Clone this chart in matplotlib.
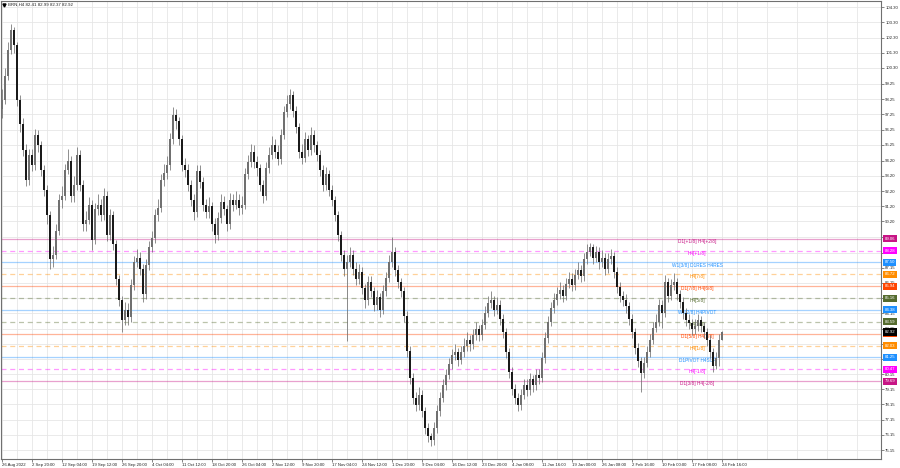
import matplotlib
matplotlib.use('Agg')
import matplotlib.pyplot as plt
import matplotlib.transforms as mtransforms
import numpy as np

plt.rcParams['font.family'] = ['Liberation Sans', 'DejaVu Sans']

# header
symbol = 'BRN,H4'
last_ohlc = [82.41, 82.99, 82.37, 82.92]

# bars (opens are the previous close)
first_open = 97.6
closes = [98.2, 99.8, 101.5, 102.8, 101.8, 98.2, 96.6, 94.9, 92.9, 94.6,
          93.9, 95.9, 95.2, 93.6, 92.3, 90.6, 87.7, 88.0, 89.6, 91.6,
          91.9, 93.6, 94.2, 91.9, 92.6, 94.6, 92.6, 90.0, 90.3, 91.3,
          89.0, 91.0, 91.3, 90.6, 91.9, 89.3, 90.6, 88.7, 86.4, 85.0,
          83.7, 84.4, 83.9, 86.0, 87.5, 87.8, 87.1, 85.4, 87.3, 88.5,
          89.1, 90.6, 91.1, 92.9, 93.4, 93.9, 95.6, 97.2, 96.8, 95.6,
          93.9, 93.6, 92.6, 91.6, 90.8, 93.5, 92.8, 91.3, 90.8, 91.2,
          90.0, 89.3, 90.4, 91.5, 91.0, 90.0, 91.6, 91.3, 91.6, 91.1,
          91.3, 93.3, 94.1, 94.8, 94.1, 93.7, 92.6, 91.9, 93.7, 94.6,
          95.2, 94.8, 94.3, 95.9, 97.4, 97.9, 98.5, 97.5, 96.4, 94.8,
          94.4, 95.6, 94.9, 95.9, 95.2, 94.6, 93.6, 92.6, 93.3, 92.3,
          91.6, 90.6, 89.3, 88.0, 87.1, 87.5, 88.0, 87.1, 86.4, 86.9,
          85.8, 85.0, 86.2, 85.6, 84.7, 85.2, 84.4, 85.6, 86.5, 87.5,
          88.2, 87.0, 86.2, 85.6, 84.0, 81.7, 79.9, 78.6, 78.1, 78.8,
          77.7, 76.6, 76.1, 75.8, 76.6, 77.7, 78.6, 79.4, 80.1, 80.8,
          81.4, 81.6, 81.1, 81.6, 82.0, 82.4, 82.1, 82.7, 83.1, 82.7,
          83.4, 84.2, 84.8, 85.0, 84.4, 84.7, 83.8, 82.9, 81.6, 80.3,
          79.2, 78.6, 78.1, 78.8, 79.4, 79.1, 79.8, 79.4, 80.1, 79.9,
          81.2, 82.5, 83.6, 84.5, 85.0, 85.4, 85.7, 85.3, 86.1, 86.4,
          86.0, 86.7, 87.0, 86.6, 87.7, 88.2, 88.5, 87.8, 88.2, 87.5,
          87.8, 87.1, 87.7, 87.9, 86.9, 85.9, 85.3, 85.0, 84.6, 83.8,
          82.9, 81.9, 81.0, 80.2, 80.9, 81.6, 82.4, 83.2, 83.6, 84.7,
          84.2, 86.2, 85.3, 86.0, 86.2, 85.4, 84.9, 84.2, 83.7, 83.5,
          83.1, 83.3, 83.7, 83.3, 82.9, 82.4, 81.6, 80.7, 81.2, 82.41,
          82.92]
highs = [98.9, 100.3, 102.0, 103.2, 103.0, 102.0, 98.5, 97.0, 95.3, 95.0,
         95.0, 96.3, 96.2, 95.5, 93.9, 92.6, 90.9, 88.6, 90.0, 92.0,
         92.5, 94.0, 95.0, 94.5, 93.2, 95.1, 94.9, 92.9, 90.9, 91.8,
         91.6, 91.4, 92.0, 91.7, 92.4, 92.2, 91.0, 90.9, 89.0, 86.7,
         85.3, 84.9, 84.8, 86.4, 87.9, 88.4, 88.2, 87.4, 87.7, 88.9,
         89.6, 91.0, 91.7, 93.3, 94.0, 94.5, 96.0, 97.7, 97.6, 97.1,
         95.9, 94.4, 94.0, 92.9, 92.0, 93.9, 93.9, 93.1, 91.7, 91.8,
         91.5, 90.4, 90.8, 92.0, 91.9, 91.3, 92.1, 92.0, 92.2, 92.0,
         91.9, 93.7, 94.6, 95.3, 95.2, 94.5, 94.0, 92.9, 94.1, 95.1,
         95.8, 95.6, 95.2, 96.3, 97.8, 98.5, 98.9, 98.8, 97.8, 96.7,
         95.3, 96.1, 95.9, 96.4, 96.2, 95.5, 94.9, 93.9, 93.8, 93.6,
         92.6, 91.9, 90.9, 89.6, 88.3, 88.0, 88.5, 88.3, 87.5, 87.4,
         87.2, 86.1, 86.6, 86.6, 85.9, 85.7, 85.5, 86.0, 86.9, 88.0,
         89.2, 88.5, 87.3, 86.5, 85.9, 84.3, 82.0, 80.2, 79.0, 79.3,
         79.1, 78.0, 76.9, 76.3, 77.0, 78.1, 79.0, 79.8, 80.5, 81.2,
         81.8, 82.1, 81.9, 82.0, 82.5, 82.9, 82.7, 83.1, 83.6, 83.4,
         83.8, 84.6, 85.3, 85.6, 85.3, 85.2, 85.0, 84.1, 83.2, 81.9,
         80.6, 79.5, 78.9, 79.2, 79.8, 79.8, 80.2, 80.1, 80.5, 80.5,
         81.6, 82.9, 84.0, 84.9, 85.5, 85.9, 86.2, 86.0, 86.5, 86.9,
         86.8, 87.1, 87.5, 87.3, 88.1, 88.7, 88.8, 88.7, 88.6, 88.5,
         88.3, 88.1, 88.1, 88.4, 88.2, 87.2, 86.2, 85.6, 85.4, 84.9,
         84.1, 83.2, 82.2, 81.3, 81.3, 82.0, 82.8, 83.6, 84.1, 85.1,
         85.0, 86.7, 86.5, 86.4, 86.8, 86.5, 85.7, 85.2, 84.5, 84.1,
         83.8, 83.8, 84.1, 84.0, 83.6, 83.2, 82.7, 81.9, 81.6, 82.8,
         82.99]
lows = [97.0, 97.9, 99.5, 101.2, 101.3, 97.8, 96.1, 94.5, 92.5, 92.6,
        93.5, 93.6, 94.8, 93.2, 91.9, 90.0, 87.1, 87.2, 87.7, 89.3,
        91.1, 91.6, 93.3, 91.5, 91.5, 92.3, 92.2, 89.6, 89.6, 90.0,
        88.3, 88.7, 90.6, 90.2, 90.3, 88.9, 89.0, 88.3, 86.0, 84.6,
        82.9, 83.4, 83.4, 83.6, 85.7, 87.2, 86.7, 84.9, 85.1, 87.0,
        88.2, 88.8, 90.2, 90.8, 92.5, 93.0, 93.6, 95.3, 96.3, 95.2,
        93.5, 93.1, 92.2, 91.2, 90.3, 90.5, 92.4, 90.9, 90.4, 90.4,
        89.6, 88.8, 89.0, 90.1, 90.6, 89.6, 89.7, 90.9, 91.0, 90.6,
        90.7, 91.0, 93.0, 93.8, 93.7, 93.2, 92.2, 91.4, 91.6, 93.4,
        94.3, 94.4, 93.9, 94.0, 95.6, 97.1, 97.6, 97.1, 96.0, 94.4,
        94.0, 94.1, 94.5, 94.6, 94.8, 94.2, 93.2, 92.2, 92.3, 91.9,
        91.2, 90.2, 88.9, 87.6, 86.6, 82.3, 87.2, 86.7, 86.0, 86.1,
        85.4, 84.5, 84.7, 85.2, 84.3, 84.4, 83.9, 84.1, 85.3, 86.2,
        87.2, 86.6, 85.8, 85.2, 83.6, 81.3, 79.5, 78.2, 77.7, 77.8,
        77.3, 76.2, 75.7, 75.4, 75.5, 76.3, 77.4, 78.3, 79.1, 79.8,
        80.5, 81.1, 80.7, 80.8, 81.3, 81.7, 81.7, 81.8, 82.4, 82.3,
        82.4, 83.1, 83.9, 84.5, 84.0, 84.1, 83.4, 82.5, 81.2, 79.9,
        78.8, 78.2, 77.7, 77.8, 78.5, 78.7, 78.8, 79.0, 79.1, 79.5,
        79.6, 80.9, 82.2, 83.3, 84.2, 84.7, 85.1, 84.9, 85.0, 85.8,
        85.6, 85.7, 86.4, 86.2, 86.3, 87.4, 87.9, 87.4, 87.5, 87.1,
        87.2, 86.7, 86.8, 87.4, 86.5, 85.5, 84.9, 84.6, 84.2, 83.4,
        82.5, 81.5, 80.6, 79.0, 79.9, 80.6, 81.3, 82.1, 82.9, 83.3,
        83.2, 83.9, 84.9, 85.0, 85.7, 85.0, 84.5, 83.8, 83.3, 83.1,
        82.7, 82.8, 83.0, 82.9, 82.5, 82.0, 81.2, 80.3, 80.5, 80.7,
        82.37]

# time axis labels, one every 10 bars
date_labels = ['26 Aug 2022', '2 Sep 20:00', '12 Sep 04:00', '19 Sep 12:00', '26 Sep 20:00',
               '4 Oct 04:00', '11 Oct 12:00', '18 Oct 20:00', '26 Oct 04:00', '2 Nov 12:00',
               '9 Nov 20:00', '17 Nov 04:00', '24 Nov 12:00', '1 Dec 20:00', '9 Dec 04:00',
               '16 Dec 12:00', '23 Dec 20:00', '4 Jan 08:00', '11 Jan 16:00', '19 Jan 00:00',
               '26 Jan 08:00', '2 Feb 16:00', '10 Feb 00:00', '17 Feb 08:00', '24 Feb 16:00']
label_step = 10

# price scale labels
price_ticks = [104.30, 103.30, 102.30, 101.30, 100.30, 99.25, 98.25, 97.25, 96.25, 95.25,
               94.20, 93.20, 92.20, 91.20, 90.20, 89.15, 88.15, 87.15, 86.15, 85.15,
               84.15, 83.15, 82.15, 81.15, 80.15, 79.15, 78.15, 77.15, 76.15, 75.15]

# murrey levels
levels = [89.0625, 88.28125, 87.5, 86.71875, 85.9375, 85.15625, 84.375,
          83.59375, 82.8125, 82.03125, 81.25, 80.46875, 79.6875]
level_names = ['D1[+1/8] H4[+2/8]', 'H4[+1/8]', 'W1[3/8] D1RES H4RES', 'H4[7/8]',
               'D1[7/8] H4[6/8]', 'H4[5/8]', 'W1[2/8] H4PIVOT', 'H4[3/8]',
               'D1[5/8] H4[2/8]', 'H4[1/8]', 'D1PIVOT H4SUP', 'H4[-1/8]', 'D1[3/8] H4[-2/8]']
level_colors = ['#C71585', '#FF00FF', '#1E90FF', '#FF8C00', '#FF4500', '#556B2F', '#1E90FF',
                '#556B2F', '#FF4500', '#FF8C00', '#1E90FF', '#FF00FF', '#C71585']
level_dashed = [False, True, False, True, False, True, False,
                True, False, True, False, True, False]

closes = np.array(closes)
highs = np.array(highs)
lows = np.array(lows)
opens = np.concatenate([[first_open], closes[:-1]])
opens[-1] = last_ohlc[0]
x = np.arange(len(closes))

fig = plt.figure(figsize=(9, 4.68), dpi=100)
ax = fig.add_axes([1 / 900, 9 / 468, 880 / 900, 458 / 468])

# levels
for lvl, name, col, dash in zip(levels, level_names, level_colors, level_dashed):
    ax.axhline(lvl, color=col, alpha=0.4, lw=0.9, ls=(0, (4, 3)) if dash else '-', zorder=1)
    ax.annotate(name, (231.7, lvl), xytext=(0, -1.9), textcoords='offset points',
                ha='center', va='center', fontsize=3.4, color=col, zorder=2)

# candles
up = closes >= opens
ax.vlines(x, lows, highs, color='#707070', lw=0.55, zorder=3)
body_lo = np.minimum(opens, closes)
body_h = np.maximum(np.abs(closes - opens), 0.04)
ax.bar(x, body_h, bottom=body_lo, width=0.5,
       color=np.where(up, '#707070', '#1a1a1a'), lw=0, zorder=4)

ax.set_xlim(-1 / 3, 293.0)
ax.set_ylim(74.56, 104.71)

# grid and ticks
ax.set_yticks(price_ticks)
ax.set_yticklabels([f'{p:.2f}' for p in price_ticks])
ax.yaxis.tick_right()
ax.set_xticks(x[::label_step])
ax.set_xticklabels(date_labels)
ax.set_xticks(np.arange(5, 293, label_step), minor=True)
for lbl in ax.get_xticklabels():
    lbl.set_ha('left')
ax.tick_params(axis='both', labelsize=3.1, length=2, width=0.5, color='#555555',
               labelcolor='#222222', pad=1)
ax.tick_params(axis='x', which='minor', length=0)
ax.grid(True, which='both', color='#e6e6e6', lw=0.6, zorder=0)
ax.set_axisbelow(True)
for s in ax.spines.values():
    s.set_color('#707070')
    s.set_linewidth(0.8)

# price tags on the right scale
trans = mtransforms.blended_transform_factory(ax.transAxes, ax.transData)
for lvl, col in zip(levels, level_colors):
    ax.text(1.004, lvl, f'{lvl:.2f}', transform=trans, ha='left', va='center',
            fontsize=3.1, color='white', zorder=6, clip_on=False,
            bbox=dict(boxstyle='square,pad=0.35', fc=col, ec='none'))
ax.text(1.004, last_ohlc[3], f'{last_ohlc[3]:.2f}', transform=trans, ha='left', va='center',
        fontsize=3.1, color='white', zorder=7, clip_on=False,
        bbox=dict(boxstyle='square,pad=0.35', fc='black', ec='none'))

# header text
ax.plot([0.003], [0.9915], marker='v', ms=2.2, color='black', transform=ax.transAxes,
        clip_on=False, zorder=8)
ax.text(0.008, 0.9915, symbol + ' ' + ' '.join(f'{v:.2f}' for v in last_ohlc),
        transform=ax.transAxes, fontsize=3.2, va='center', ha='left', color='#222222')

fig.savefig('out.png', dpi=100)
